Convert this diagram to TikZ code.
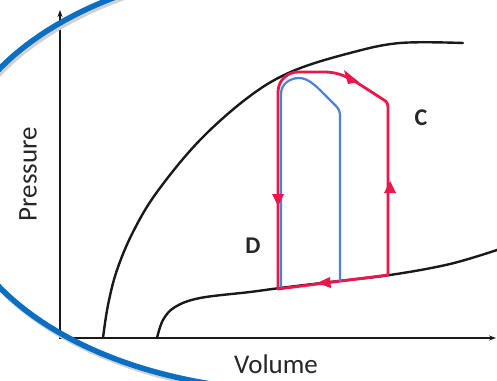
\documentclass[tikz,border=0pt]{standalone}
\usepackage{fontspec}
\setmainfont{Carlito}
\usetikzlibrary{arrows.meta}
\definecolor{redc}{HTML}{E8174C}
\definecolor{cycblue}{HTML}{4F82D2}
\definecolor{arcblue}{HTML}{0A6FC2}
\definecolor{txt}{HTML}{262626}
\tikzset{
  axisline/.style={line width=2.2pt, black!90},
  curveline/.style={line width=2.4pt, black!90, line cap=round},
  redline/.style={line width=2.8pt, redc, line join=round},
  blueline/.style={line width=2.2pt, cycblue, line join=round},
  lbl/.style={font=\fontsize{27}{30}\selectfont, text=txt, inner sep=0pt},
  blbl/.style={font=\bfseries\fontsize{24}{28}\selectfont, text=txt, inner sep=0pt},
  tri/.style={fill=redc}
}
\begin{document}
\begin{tikzpicture}[x=1pt,y=-1pt]
\useasboundingbox (0,0) rectangle (497,380);
\fill[white] (0,0) rectangle (497,380);
\clip (0,0) rectangle (497,380);
% axes
\draw[axisline, -{Stealth[length=7pt,width=5pt]}] (60,339) -- (60,10);
\draw[axisline, -{Stealth[length=7pt,width=5pt]}] (59,338) -- (496,338);
% black curves
\draw[curveline] plot[smooth, tension=0.6] coordinates {(103,338) (108,305) (117,270) (133,232) (157,192) (200,140) (250,96) (293,71) (350,53) (400,43) (463,43)};
\draw[curveline] plot[smooth, tension=0.6] coordinates {(157,338) (163,320) (175,307) (200,298) (250,292) (280,288) (330,282) (390,275) (450,264) (500,249)};
% red cycle
\draw[redline] (278,289) -- (278,92) .. controls (278,80) and (288,72) .. (298,72)
  -- (325,72) .. controls (336,72) and (346,76) .. (356,82) -- (384,100) .. controls (387,102) and (388,104) .. (388,108) -- (388,275) -- cycle;
% blue cycle
\draw[blueline] (281,287) -- (281,94) .. controls (281,84) and (290,78) .. (299,78)
  .. controls (307,78) and (314,84) .. (322,92) -- (336,106) .. controls (339,109) and (340,112) .. (340,116) -- (340,281);
% arrowheads
\fill[tri] (272,194) -- (284,194) -- (278,206) -- cycle;
\fill[tri] (384,193) -- (396,193) -- (390,181) -- cycle;
\fill[tri] (344,70) -- (348,84) -- (359,82) -- cycle;
\fill[tri] (317,283) -- (330,277) -- (331,288) -- cycle;
% big blue arc (left part of a large ellipse)
\draw[line width=5pt, black!18] plot[domain=100:260, samples=90] ({302+350*cos(\x)}, {181+213*sin(\x)});
\draw[line width=5.5pt, arcblue] plot[domain=100:260, samples=90] ({300+350*cos(\x)}, {178+213*sin(\x)});
% labels
\node[lbl, rotate=90] (p) at (28,174) {Pressure};
\node[lbl] (v) at (276,364) {Volume};
\node[blbl] (c) at (421,118) {C};
\node[blbl] (d) at (253,246) {D};
\end{tikzpicture}
\end{document}
